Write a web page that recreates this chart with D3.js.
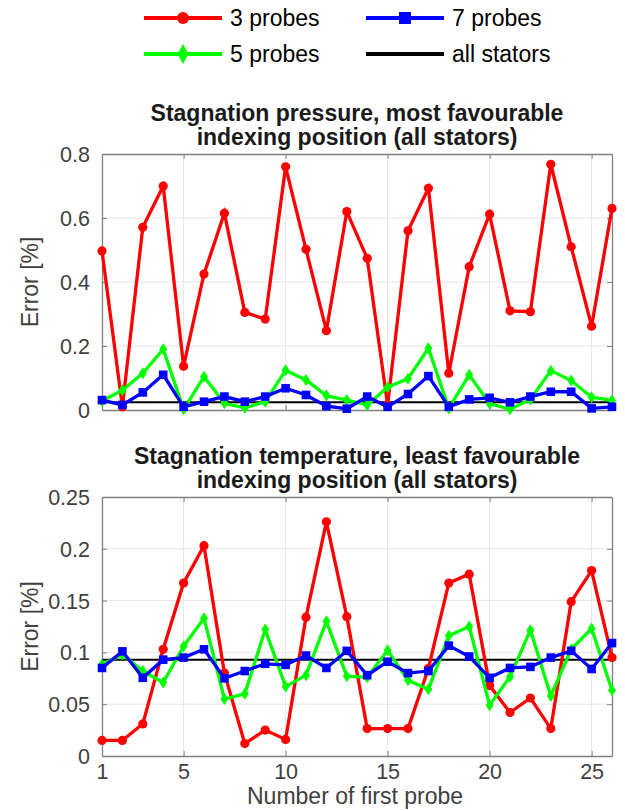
<!DOCTYPE html>
<html>
<head>
<meta charset="utf-8">
<script src="https://cdn.jsdelivr.net/npm/d3@7"></script>
<style>
  body { margin: 0; background: #fff; }
  text { font-family: "Liberation Sans", Arial, sans-serif; }
</style>
</head>
<body>
<div id="chart"></div>
<script>
const width = 625, height = 811;

// x: number of first probe
const probes = d3.range(1, 27);
const xTicks = [1, 5, 10, 15, 20, 25];

// stagnation pressure, most favourable indexing position
const pressure3 = [0.497, 0.01, 0.571, 0.70, 0.137, 0.425, 0.615, 0.305, 0.284, 0.76, 0.502, 0.248, 0.62,
                   0.474, 0.016, 0.56, 0.693, 0.115, 0.448, 0.612, 0.31, 0.307, 0.768, 0.51, 0.262, 0.63];
const pressure5 = [0.028, 0.062, 0.115, 0.19, 0.002, 0.104, 0.021, 0.007, 0.026, 0.124, 0.094, 0.045, 0.031,
                   0.016, 0.071, 0.098, 0.193, 0.005, 0.11, 0.02, 0.002, 0.033, 0.123, 0.092, 0.04, 0.03];
const pressure7 = [0.031, 0.016, 0.055, 0.11, 0.01, 0.026, 0.042, 0.026, 0.042, 0.068, 0.047, 0.012, 0.004,
                   0.042, 0.01, 0.05, 0.106, 0.01, 0.033, 0.038, 0.024, 0.042, 0.057, 0.057, 0.005, 0.01];
const pressureAll = 0.024;
const pressureTicks = [0, 0.2, 0.4, 0.6, 0.8];

// stagnation temperature, least favourable indexing position
const temp3 = [0.015, 0.015, 0.031, 0.103, 0.167, 0.203, 0.08, 0.012, 0.025, 0.016, 0.134, 0.226, 0.1345,
               0.0265, 0.0265, 0.0265, 0.0845, 0.167, 0.1755, 0.068, 0.042, 0.056, 0.0265, 0.149, 0.179, 0.095];
const temp5 = [0.088, 0.098, 0.082, 0.071, 0.106, 0.133, 0.055, 0.06, 0.122, 0.067, 0.078, 0.130, 0.077,
               0.076, 0.102, 0.073, 0.0645, 0.116, 0.125, 0.049, 0.0765, 0.1215, 0.058, 0.103, 0.123, 0.0635];
const temp7 = [0.085, 0.101, 0.0755, 0.093, 0.095, 0.103, 0.075, 0.082, 0.089, 0.088, 0.097, 0.085, 0.1015,
               0.078, 0.091, 0.080, 0.082, 0.1065, 0.096, 0.0755, 0.085, 0.086, 0.095, 0.1015, 0.084, 0.109];
const tempAll = 0.093;
const tempTicks = [0, 0.05, 0.1, 0.15, 0.2, 0.25];

const RED = "#ff0000", GREEN = "#00ff00", BLUE = "#0000ff";
const tickColor = "#404040", axisColor = "#808080";

const svg = d3.select("#chart").append("svg")
  .attr("width", width)
  .attr("height", height);

const x = d3.scaleLinear().domain([1, 26]).range([102, 612]);

function panel(opts) {
  const y = d3.scaleLinear().domain(opts.yDomain).range([opts.bottom, opts.top]);
  const g = svg.append("g");

  // grid
  g.append("g").selectAll("line").data(xTicks.slice(1)).enter().append("line")
    .attr("x1", d => x(d)).attr("x2", d => x(d))
    .attr("y1", opts.top).attr("y2", opts.bottom)
    .attr("stroke", "#e6e6e6").attr("stroke-width", 1);
  g.append("g").selectAll("line").data(opts.yTicks.slice(1, -1)).enter().append("line")
    .attr("x1", 102).attr("x2", 612)
    .attr("y1", d => y(d)).attr("y2", d => y(d))
    .attr("stroke", "#e6e6e6").attr("stroke-width", 1);

  // axes: left/bottom with labels, top/right as box
  const yAxis = d3.axisLeft(y).tickValues(opts.yTicks).tickSizeInner(-5).tickSizeOuter(0)
    .tickPadding(12).tickFormat(d3.format("~g"));
  const ya = g.append("g").attr("transform", "translate(102,0)").call(yAxis);
  const yr = g.append("g").attr("transform", "translate(612,0)")
    .call(d3.axisRight(y).tickValues(opts.yTicks).tickSizeInner(-5).tickSizeOuter(0).tickFormat(""));
  const xAxis = d3.axisBottom(x).tickValues(xTicks).tickSizeInner(-5).tickSizeOuter(0)
    .tickPadding(8).tickFormat(opts.showX ? d3.format("d") : "");
  const xa = g.append("g").attr("transform", `translate(0,${opts.bottom})`).call(xAxis);
  const xt = g.append("g").attr("transform", `translate(0,${opts.top})`)
    .call(d3.axisTop(x).tickValues(xTicks).tickSizeInner(-5).tickSizeOuter(0).tickFormat(""));
  [ya, yr, xa, xt].forEach(a => {
    a.select(".domain").attr("stroke", axisColor).attr("stroke-width", 1.3);
    a.selectAll(".tick line").attr("stroke", axisColor);
    a.selectAll("text").attr("fill", tickColor).style("font-size", "21.5px");
  });
  ya.selectAll("text").attr("dy", "0.35em");

  // y label
  g.append("text")
    .attr("transform", `translate(38,${(opts.top + opts.bottom) / 2}) rotate(-90)`)
    .attr("text-anchor", "middle")
    .attr("fill", tickColor)
    .style("font-size", "23px")
    .text("Error [%]");

  // title
  g.append("text")
    .attr("x", 357).attr("text-anchor", "middle")
    .attr("y", opts.top - 33)
    .attr("fill", "#1a1a1a")
    .style("font-size", "23px").style("font-weight", "bold")
    .text(opts.title[0]);
  g.append("text")
    .attr("x", 357).attr("text-anchor", "middle")
    .attr("y", opts.top - 9)
    .attr("fill", "#1a1a1a")
    .style("font-size", "23px").style("font-weight", "bold")
    .text(opts.title[1]);

  // all stators line
  g.append("line")
    .attr("x1", x(1)).attr("x2", x(26))
    .attr("y1", y(opts.all)).attr("y2", y(opts.all))
    .attr("stroke", "#000").attr("stroke-width", 2);

  const line = d3.line().x((d, i) => x(probes[i])).y(d => y(d));

  // 3 probes
  g.append("path").datum(opts.s3).attr("d", line)
    .attr("fill", "none").attr("stroke", RED).attr("stroke-width", 3.3);
  g.append("g").selectAll("circle").data(opts.s3).enter().append("circle")
    .attr("cx", (d, i) => x(probes[i])).attr("cy", d => y(d)).attr("r", 4.6)
    .attr("fill", RED);

  // 5 probes
  g.append("path").datum(opts.s5).attr("d", line)
    .attr("fill", "none").attr("stroke", GREEN).attr("stroke-width", 3.3);
  g.append("g").selectAll("path").data(opts.s5).enter().append("path")
    .attr("d", "M0,-6L4,0L0,6L-4,0Z")
    .attr("transform", (d, i) => `translate(${x(probes[i])},${y(d)})`)
    .attr("fill", GREEN);

  // 7 probes
  g.append("path").datum(opts.s7).attr("d", line)
    .attr("fill", "none").attr("stroke", BLUE).attr("stroke-width", 3.3);
  g.append("g").selectAll("rect").data(opts.s7).enter().append("rect")
    .attr("x", (d, i) => x(probes[i]) - 4.3).attr("y", d => y(d) - 4.3)
    .attr("width", 8.6).attr("height", 8.6)
    .attr("fill", BLUE);

  return g;
}

panel({
  top: 154, bottom: 410, yDomain: [0, 0.8], yTicks: pressureTicks, showX: false,
  title: ["Stagnation pressure, most favourable", "indexing position (all stators)"],
  s3: pressure3, s5: pressure5, s7: pressure7, all: pressureAll
});

panel({
  top: 497, bottom: 756, yDomain: [0, 0.25], yTicks: tempTicks, showX: true,
  title: ["Stagnation temperature, least favourable", "indexing position (all stators)"],
  s3: temp3, s5: temp5, s7: temp7, all: tempAll
});

svg.append("text")
  .attr("x", 355).attr("y", 804)
  .attr("text-anchor", "middle")
  .attr("fill", tickColor)
  .style("font-size", "23px")
  .text("Number of first probe");

// legend
const legendItems = [
  { label: "3 probes", color: RED, marker: "circle", lx: 144, ly: 18 },
  { label: "7 probes", color: BLUE, marker: "square", lx: 366, ly: 18 },
  { label: "5 probes", color: GREEN, marker: "diamond", lx: 144, ly: 54 },
  { label: "all stators", color: "#000", marker: null, lx: 366, ly: 54 }
];
const leg = svg.append("g");
legendItems.forEach(it => {
  leg.append("line")
    .attr("x1", it.lx).attr("x2", it.lx + 78)
    .attr("y1", it.ly).attr("y2", it.ly)
    .attr("stroke", it.color).attr("stroke-width", 4);
  const mx = it.lx + 39;
  if (it.marker === "circle") {
    leg.append("circle").attr("cx", mx).attr("cy", it.ly).attr("r", 6).attr("fill", it.color);
  } else if (it.marker === "square") {
    leg.append("rect").attr("x", mx - 6).attr("y", it.ly - 6).attr("width", 12).attr("height", 12).attr("fill", it.color);
  } else if (it.marker === "diamond") {
    leg.append("path").attr("d", "M0,-10L5.5,0L0,10L-5.5,0Z")
      .attr("transform", `translate(${mx},${it.ly})`).attr("fill", it.color);
  }
  leg.append("text")
    .attr("x", it.lx + 86).attr("y", it.ly).attr("dy", "0.35em")
    .style("font-size", "23px")
    .text(it.label);
});
</script>
</body>
</html>
